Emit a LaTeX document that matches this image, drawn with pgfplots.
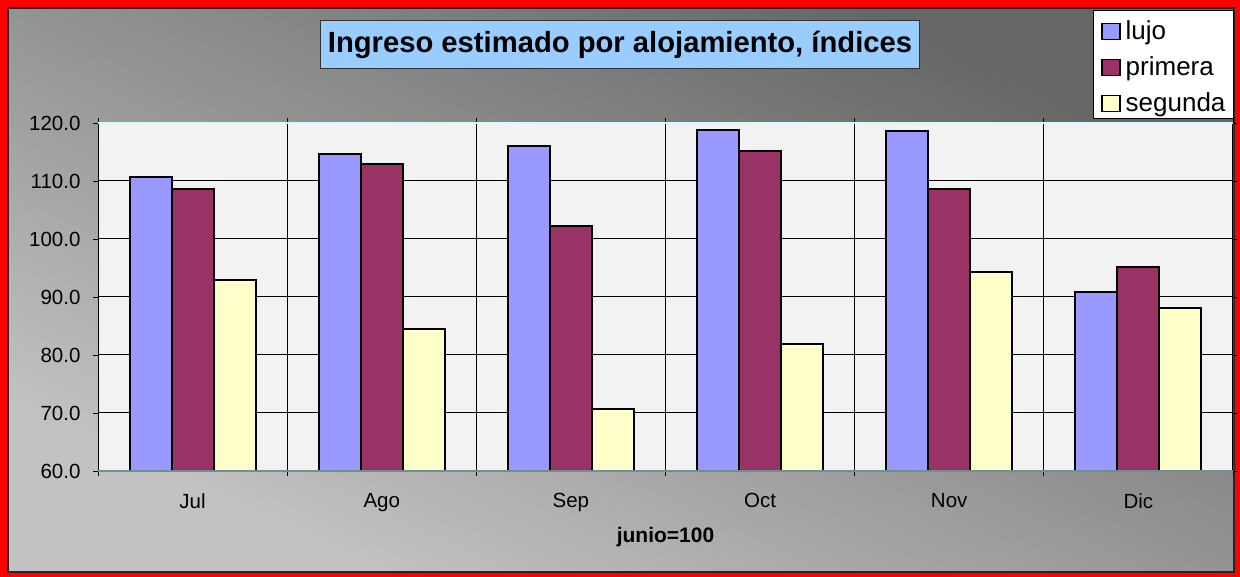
\documentclass[border=0pt]{standalone}
\usepackage{pgfplots}
\pgfplotsset{compat=1.18}
\usepackage{fontspec}
\setmainfont{Liberation Sans}
\definecolor{lujo}{HTML}{9999FF}
\definecolor{primera}{HTML}{993366}
\definecolor{segunda}{HTML}{FFFFCC}
\definecolor{titlebox}{HTML}{99CCFF}
\definecolor{axisteal}{HTML}{6E9090}
\definecolor{topcyan}{HTML}{CCFFFF}
\begin{document}
\begin{tikzpicture}[x=1bp,y=1bp]
% outer frame
\fill[red] (0,0) rectangle (1240,577);
\begin{scope}[transform canvas={shift={(8bp,5bp)}, xscale=2.173759}]
\shade[shading=axis, top color=black!60, bottom color=black!24, shading angle=-45] (0,0) rectangle (564,564);
\end{scope}
\draw[black!85, line width=1.2bp] (8,5) rectangle (1234,569);
% plot area background
\shade[left color=black!5, middle color=black!10, right color=black!5] (98,106) rectangle (1233,454);
\begin{axis}[
  name=ax,
  at={(98bp,106bp)}, anchor=south west,
  scale only axis, width=1135bp, height=348bp,
  xmin=-0.5, xmax=5.5, ymin=60, ymax=120,
  ybar=0pt, bar width=42bp,
  axis line style={draw=none},
  tick align=outside,
  major tick length=5bp,
  tick style={black, line width=0.8bp},
  xtick={-0.5,0.5,...,5.5},
  xticklabels={},
  xmajorgrids=true,
  extra x ticks={0,1,2,3,4,5},
  extra x tick labels={Jul,Ago,Sep,Oct,Nov,Dic},
  extra x tick style={major tick length=0pt, grid=none,
     tick label style={yshift=-19bp}},
  ytick={60,70,...,120},
  ymajorgrids=true,
  grid style={black, line width=1bp},
  /pgf/number format/assume math mode=true,
  yticklabel style={/pgf/number format/fixed, /pgf/number format/fixed zerofill, /pgf/number format/precision=1, xshift=-9bp},
  tick label style={font=\fontsize{20.5bp}{24bp}\selectfont},
  xlabel={\textbf{junio=100}},
  xlabel style={at={(rel axis cs:0.5,-0.1897)}, anchor=center, font=\fontsize{21bp}{25bp}\selectfont},
  legend style={at={(rel axis cs:1.0009,1.3247)}, anchor=north east,
     draw=black, line width=1bp, fill=white,
     font=\fontsize{26bp}{30bp}\selectfont,
     inner xsep=8bp, inner ysep=4bp, row sep=8bp, column sep=5bp,
     legend cell align=left,
     nodes={inner sep=0pt, text height=25bp, text depth=3bp}},
  legend image code/.code={\draw[#1, draw=black, line width=1.6bp] (0bp,-11bp) rectangle (18bp,5bp);},
]
\addplot[fill=lujo, draw=black, line width=2bp] coordinates {(0,110.7) (1,114.7) (2,116.1) (3,118.8) (4,118.6) (5,90.9)};
\addplot[fill=primera, draw=black, line width=2bp] coordinates {(0,108.6) (1,113.0) (2,102.2) (3,115.1) (4,108.6) (5,95.1)};
\addplot[fill=segunda, draw=black, line width=2bp] coordinates {(0,93.0) (1,84.5) (2,70.7) (3,81.9) (4,94.3) (5,88.1)};
\legend{lujo,primera,segunda}
\end{axis}
% axis lines
\draw[black, line width=1bp] (ax.south west) -- (ax.north west);
\draw[axisteal, line width=1.2bp] (ax.south west) -- (ax.south east);
\draw[topcyan, line width=1.5bp] (ax.north west) -- (ax.north east);
% title
\node[fill=titlebox, draw=black!80, line width=1bp, minimum width=598bp, minimum height=48bp, inner sep=0pt,
  font=\fontsize{29.2bp}{33bp}\selectfont\bfseries] at (620,532.5) {Ingreso estimado por alojamiento, índices};
\end{tikzpicture}
\end{document}
